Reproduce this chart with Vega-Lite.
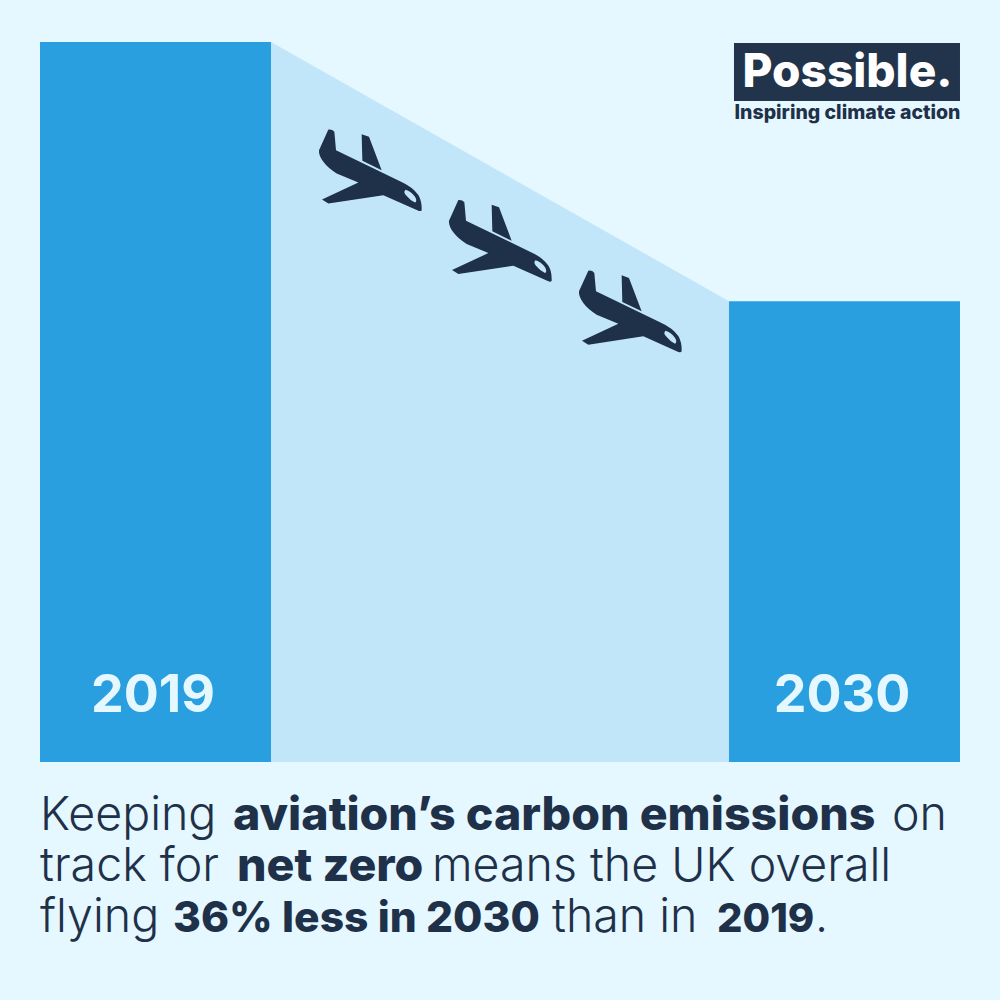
{"$schema":"https://vega.github.io/schema/vega-lite/v6.json","width":1000,"height":1000,"padding":0,"autosize":{"type":"fit","contains":"padding"},"background":"#e5f7ff","config":{"view":{"stroke":null}},
"datasets":{
"bars":[{"label":"2019","start":2013.452,"end":2019,"value":100,"labelPos":2016.166},{"label":"2030","start":2030,"end":2035.548,"value":64,"labelPos":2032.714}],
"trend":[{"year":2019,"value":100},{"year":2030,"value":64}],
"planes":[{"year":2021.378,"value":82.2},{"year":2024.5,"value":72.4},{"year":2027.622,"value":62.6}],
"regular":[{"t":"Keeping","x":2013.452,"y":-9.444},{"t":"on","x":2033.915,"y":-9.444},{"t":"track for","x":2013.452,"y":-16.528},{"t":"means the UK overall","x":2022.867,"y":-16.528},{"t":"flying","x":2013.452,"y":-23.611},{"t":"than in","x":2025.749,"y":-23.611},{"t":".","x":2032.066,"y":-23.611}],
"bold":[{"t":"aviation’s carbon emissions","x":2018.087,"y":-9.444},{"t":"net zero","x":2018.183,"y":-16.528}],
"boldNumbers":[{"t":"36% less in 2030","x":2016.646,"y":-23.611}],
"boldYear":[{"t":"2019","x":2029.712,"y":-23.611}],
"logoBox":[{"x":2030.12,"x2":2035.548,"y":99.86,"y2":91.81}],
"logoTitle":[{"t":"Possible.","x":2032.846,"y":93.75}],
"logoSub":[{"t":"Inspiring climate action","x":2032.846,"y":89.24}]
},
"layer":[
{"data":{"name":"trend"},"mark":{"type":"area","color":"#c2e6f9","interpolate":"linear"},"encoding":{"x":{"field":"year","type":"quantitative","scale":{"domain":[2012.491,2036.509],"nice":false,"zero":false},"axis":null},"y":{"field":"value","type":"quantitative","scale":{"domain":[-33.056,105.833],"nice":false,"zero":false},"axis":null},"y2":{"datum":0}}},
{"data":{"name":"bars"},"mark":{"type":"rect","color":"#2a9fdf"},"encoding":{"x":{"field":"start","type":"quantitative"},"x2":{"field":"end"},"y":{"field":"value","type":"quantitative"},"y2":{"datum":0}}},
{"data":{"name":"bars"},"mark":{"type":"text","font":"Inter","fontWeight":700,"fontSize":52,"color":"#e5f7ff","align":"center","baseline":"alphabetic"},"encoding":{"x":{"field":"labelPos","type":"quantitative"},"y":{"datum":6.944,"type":"quantitative"},"text":{"field":"label"}}},
{"data":{"name":"planes"},"mark":{"type":"point","filled":true,"opacity":1,"color":"#1f3049","size":10000,"shape":"M-.833 -.813Q-.75 -.82 -.713 -.767L-.68 -.4L.6 .22Q.85 .33 .97 .5Q1.04 .62 1.033 .8Q1.02 .83 .967 .813L.267 .5L-.833 .667L-.96 .587L-.233 .247L-.667 .067Q-.85 -.05 -.933 -.167Q-1.03 -.3 -1.02 -.4ZM.71 .39Q.66 .44 .72 .5Q.8 .6 .9 .647Q.95 .62 .9 .53Q.82 .42 .71 .39ZM-.167 -.72L-.02 -.667L.233 0L-.153 -.187Z"},"encoding":{"x":{"field":"year","type":"quantitative"},"y":{"field":"value","type":"quantitative"}}},
{"data":{"name":"regular"},"mark":{"type":"text","font":"Inter","fontWeight":300,"fontSize":46.5,"color":"#1f3049","align":"left","baseline":"alphabetic"},"encoding":{"x":{"field":"x","type":"quantitative"},"y":{"field":"y","type":"quantitative"},"text":{"field":"t"}}},
{"data":{"name":"bold"},"mark":{"type":"text","font":"Inter","fontWeight":800,"fontSize":46.5,"color":"#1f3049","align":"left","baseline":"alphabetic"},"encoding":{"x":{"field":"x","type":"quantitative"},"y":{"field":"y","type":"quantitative"},"text":{"field":"t"}}},
{"data":{"name":"boldNumbers"},"mark":{"type":"text","font":"Inter","fontWeight":800,"fontSize":42.5,"color":"#1f3049","align":"left","baseline":"alphabetic"},"encoding":{"x":{"field":"x","type":"quantitative"},"y":{"field":"y","type":"quantitative"},"text":{"field":"t"}}},
{"data":{"name":"boldYear"},"mark":{"type":"text","font":"Inter","fontWeight":800,"fontSize":40,"color":"#1f3049","align":"left","baseline":"alphabetic"},"encoding":{"x":{"field":"x","type":"quantitative"},"y":{"field":"y","type":"quantitative"},"text":{"field":"t"}}},
{"data":{"name":"logoBox"},"mark":{"type":"rect","color":"#22344c"},"encoding":{"x":{"field":"x","type":"quantitative"},"x2":{"field":"x2"},"y":{"field":"y","type":"quantitative"},"y2":{"field":"y2"}}},
{"data":{"name":"logoTitle"},"mark":{"type":"text","font":"Inter","fontWeight":800,"fontSize":46,"color":"#ffffff","align":"center","baseline":"alphabetic"},"encoding":{"x":{"field":"x","type":"quantitative"},"y":{"field":"y","type":"quantitative"},"text":{"field":"t"}}},
{"data":{"name":"logoSub"},"mark":{"type":"text","font":"Inter","fontWeight":800,"fontSize":19.5,"color":"#1f3049","align":"center","baseline":"alphabetic"},"encoding":{"x":{"field":"x","type":"quantitative"},"y":{"field":"y","type":"quantitative"},"text":{"field":"t"}}}
]}
